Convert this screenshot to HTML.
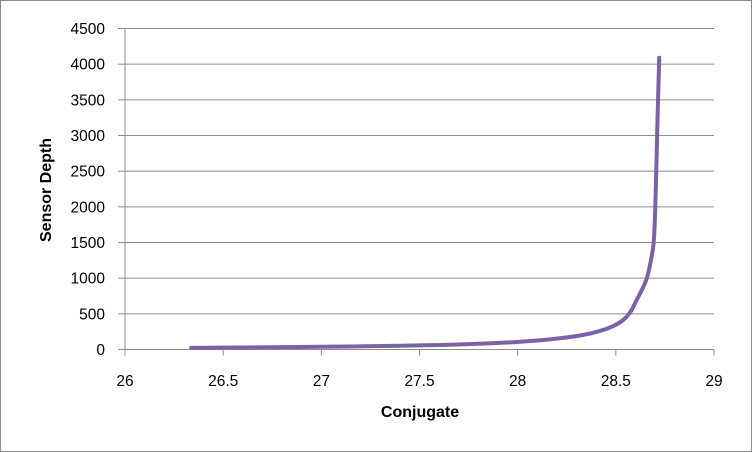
<!DOCTYPE html>
<html><head><meta charset="utf-8"><style>
html,body{margin:0;padding:0;background:#fff;}
svg{display:block;font-family:"Liberation Sans",sans-serif;}
</style></head><body>
<svg id="chart" width="752" height="452" viewBox="0 0 752 452">
<rect x="0.5" y="0.5" width="751" height="451" fill="#fff" stroke="#8c8c8c"/>
<g id="grid"></g><g id="axes"></g><g id="series"></g>
<text x="420" y="417" text-anchor="middle" font-size="16" font-weight="bold">Conjugate</text>
<text transform="translate(51,190) rotate(-90)" text-anchor="middle" font-size="16" font-weight="bold">Sensor Depth</text>
</svg>
<script>
const xTicks=[26,26.5,27,27.5,28,28.5,29];
const yTicks=[0,500,1000,1500,2000,2500,3000,3500,4000,4500];
const conjugate=[26.337,26.6,27.0,27.4,27.7,27.976,28.15,28.318,28.42,28.488,28.54,28.575,28.607,28.635,28.658,28.675,28.692,28.700,28.706,28.712,28.717,28.721];
const sensorDepth=[22,28,38,52,70,102,138,196,260,330,420,530,700,850,1000,1200,1482,1900,2510,3200,3700,4090];
const NS="http://www.w3.org/2000/svg";
const X0=125,X1=714,Y0=349.5,Y1=28.5;
const sx=v=>X0+(v-26)/3*(X1-X0);
const sy=v=>Y0-(v/4500)*(Y0-Y1);
function mk(t,a,p){const e=document.createElementNS(NS,t);for(const k in a)e.setAttribute(k,a[k]);p.appendChild(e);return e;}
const grid=document.getElementById('grid'),axes=document.getElementById('axes'),ser=document.getElementById('series');
yTicks.forEach(v=>{
  if(v>0){const g=mk('line',{x1:X0,x2:X1,y1:sy(v),y2:sy(v),stroke:'#8c8c8c','stroke-width':1},grid);
  
  }
  const tk=mk('line',{x1:X0-7,x2:X0,y1:sy(v),y2:sy(v),stroke:'#8c8c8c'},axes);
  
  
  const t=mk('text',{x:X0-20,y:sy(v)+5.5,'text-anchor':'end','font-size':'15.5'},axes);t.textContent=v;
  
  
});
xTicks.forEach(v=>{
  const tk=mk('line',{x1:sx(v),x2:sx(v),y1:Y0,y2:Y0+6,stroke:'#8c8c8c'},axes);
  
  
  const t=mk('text',{x:sx(v),y:386,'text-anchor':'middle','font-size':'15.5'},axes);t.textContent=v;
  
  
});
const ya=mk('line',{x1:X0,x2:X0,y1:Y1,y2:Y0,stroke:'#8c8c8c'},axes);


const xa=mk('line',{x1:X0,x2:X1,y1:Y0,y2:Y0,stroke:'#8c8c8c'},axes);


const pts=conjugate.map((c,i)=>[sx(c),sy(sensorDepth[i])]);
let d='M'+pts[0][0].toFixed(2)+','+pts[0][1].toFixed(2);
for(let i=0;i<pts.length-1;i++){
  const p0=pts[Math.max(0,i-1)],p1=pts[i],p2=pts[i+1],p3=pts[Math.min(pts.length-1,i+2)];
  const c1=[p1[0]+(p2[0]-p0[0])/6,p1[1]+(p2[1]-p0[1])/6];
  const c2=[p2[0]-(p3[0]-p1[0])/6,p2[1]-(p3[1]-p1[1])/6];
  d+=' C'+c1.map(n=>n.toFixed(2)).join(',')+' '+c2.map(n=>n.toFixed(2)).join(',')+' '+p2.map(n=>n.toFixed(2)).join(',');
}
const p=mk('path',{d:d,fill:'none',stroke:'#7b62a5','stroke-width':4,'stroke-linecap':'round','stroke-linejoin':'round'},ser);


</script>
</body></html>
